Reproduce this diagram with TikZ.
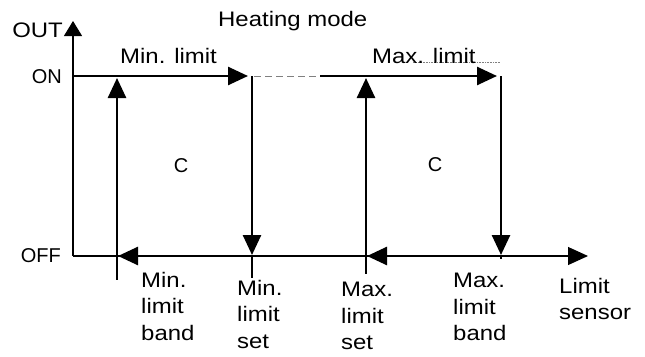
\documentclass[tikz,border=0pt]{standalone}
\usepackage{fontspec}
\setmainfont[FakeStretch=1.14]{Liberation Sans}
\newfontfamily\levelfont{Liberation Sans}
\usetikzlibrary{arrows.meta}

\begin{document}
\begin{tikzpicture}[x=1pt, y=-1pt,
    heavy/.style={line width=2.6pt},
    light/.style={line width=1.1pt},
    tip/.style={-{Triangle[length=20pt, width=18pt]}},
    lbl/.style={font=\fontsize{21}{26.5}\selectfont, inner sep=0pt, align=left, anchor=base west},
    multi/.style={lbl, anchor=north west},
    lvl/.style={font=\levelfont\fontsize{20}{22}\selectfont, inner sep=0pt}]
  \useasboundingbox (0,0) rectangle (645,356);

  % reference points
  \coordinate (o) at (73,256);
  \coordinate (ytop) at (73,21);
  \coordinate (xend) at (588,256);
  \coordinate (onl) at (73,76);
  \coordinate (p1) at (117,256);
  \coordinate (p2) at (252,256);
  \coordinate (p3) at (366,256);
  \coordinate (p4) at (501,256);
  \coordinate (r1) at (320,76);
  \coordinate (b1) at (295,256);
  \coordinate (b2) at (546,256);

  % axes
  \draw[light, -{Triangle[length=15pt, width=18pt]}] (o) -- (ytop);
  \draw[light, tip] (o) -- (xend);
  \draw[light] (p1) -- ++(0,24);
  \draw[light] (p2) -- ++(0,22);
  \draw[light] (p3) -- ++(0,18);
  \draw[light] (p4) -- ++(0,3);

  % ON level
  \draw[heavy, tip] (onl) -- ([xshift=-4pt]p2 |- onl);
  \draw[line width=0.9pt, gray, dash pattern=on 7pt off 4pt] ([xshift=2pt]p2 |- onl) -- (r1);
  \draw[heavy, tip] (r1) -- ([xshift=-4pt]p4 |- onl);

  % OFF level
  \draw[heavy, tip] (b1) -- ([xshift=1pt]p1);
  \draw[heavy, tip] (b2) -- ([xshift=1pt]p3);

  % switching
  \draw[heavy, tip] (p1) -- ([yshift=-2pt]p1 |- onl);
  \draw[heavy, tip] (p3) -- ([yshift=-2pt]p3 |- onl);
  \draw[heavy, tip] (p2 |- onl) -- ([yshift=1pt]p2);
  \draw[heavy, tip] (p4 |- onl) -- ([yshift=1pt]p4);

  % labels
  \node[lbl, anchor=base east] (out) at (63,37) {OUT};
  \node[lvl, anchor=east] (on) at (62,77) {ON};
  \node[lvl, anchor=east] (off) at (61,256) {OFF};
  \node[lbl] (mode) at (218,27) {Heating mode};
  \node[lbl] (minlim) at (120,63) {Min. limit};
  \coordinate (dotend) at (500,62);
  \draw[gray, densely dotted, line width=0.6pt] ([xshift=41pt, yshift=1pt]372,63) -- (dotend);
  \node[lbl] (maxlim) at (372,63) {Max. limit};
  \node[lvl] (c1) at (181,166) {C};
  \node[lvl] (c2) at (435,165) {C};
  \node[multi] (bandmin) at (141,272) {Min.\\limit\\band};
  \node[multi] (setmin) at (237,280) {Min.\\limit\\set};
  \node[multi] (setmax) at (341,282) {Max.\\limit\\set};
  \node[multi] (bandmax) at (453,273) {Max.\\limit\\band};
  \node[multi] (sensor) at (559,278) {Limit\\sensor};
\end{tikzpicture}
\end{document}
